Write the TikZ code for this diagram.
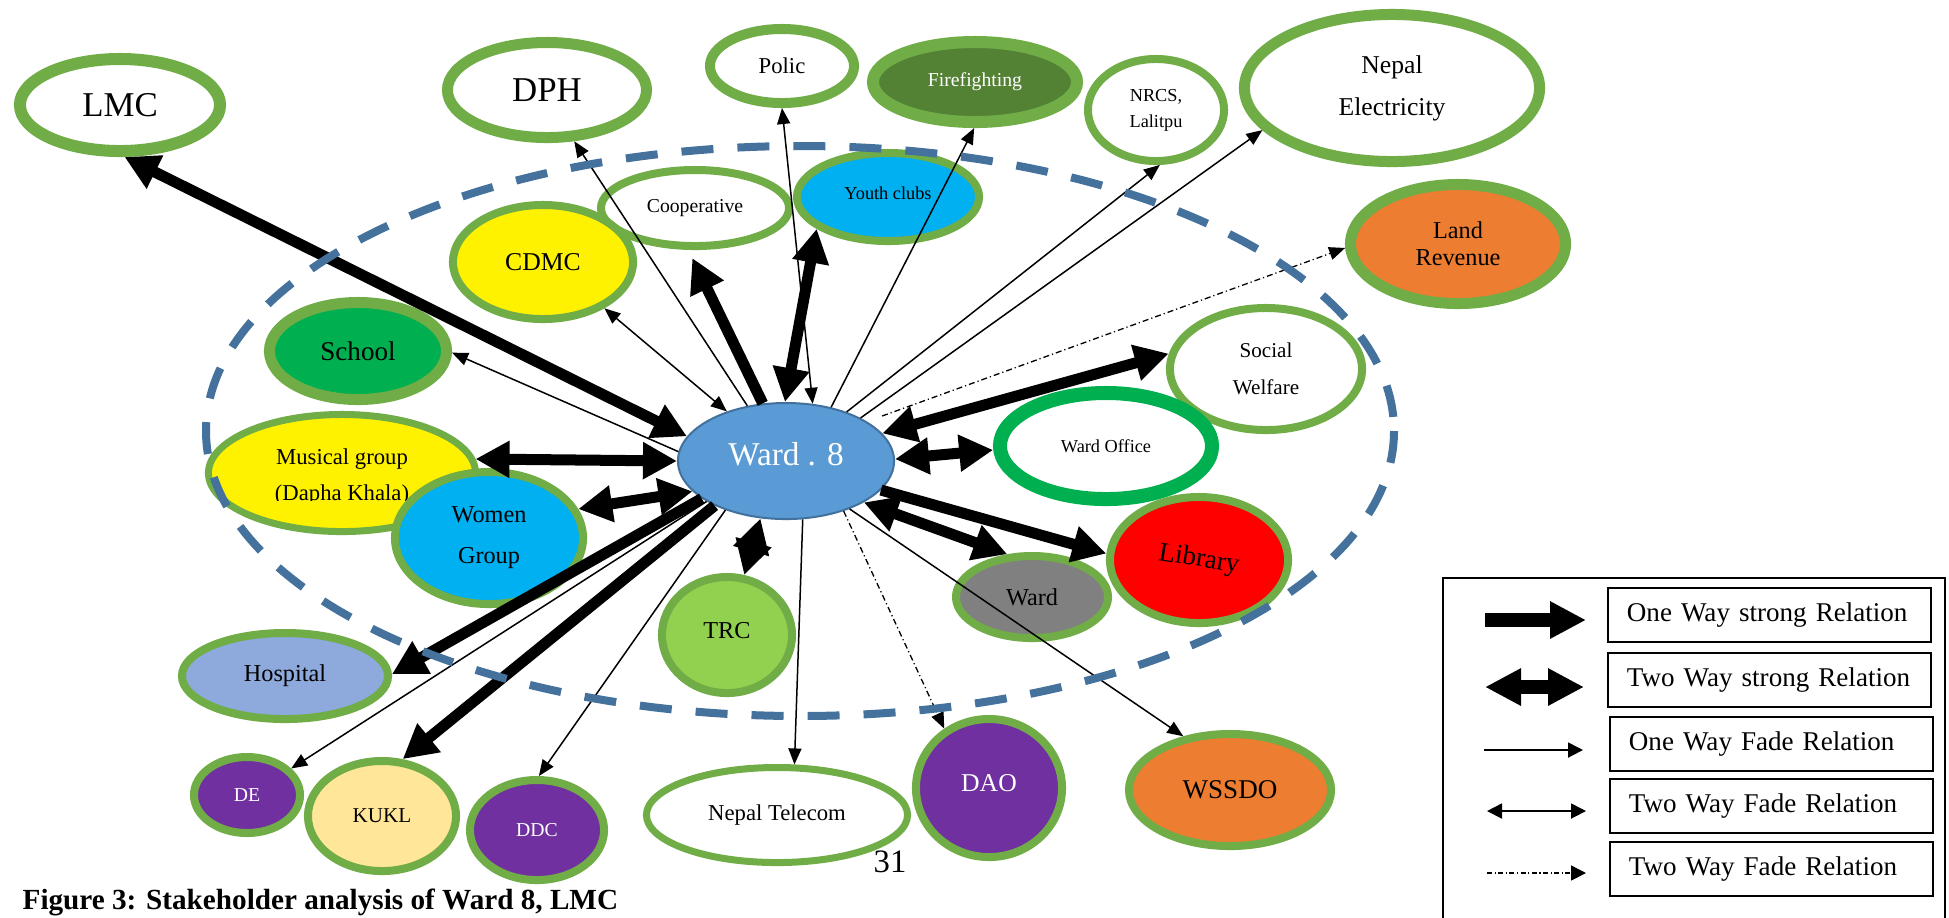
\documentclass[tikz,border=0pt]{standalone}
\usepackage{fontspec}
\setmainfont{Liberation Serif}
\usepackage{graphicx}
\usetikzlibrary{shapes.geometric,arrows.meta}

\definecolor{ringgreen}{HTML}{70AD47}
\definecolor{brightgreen}{HTML}{00B050}
\definecolor{firegreen}{HTML}{548235}
\definecolor{skyfill}{HTML}{00B0F0}
\definecolor{orangefill}{HTML}{ED7D31}
\definecolor{purplefill}{HTML}{7030A0}
\definecolor{creamfill}{HTML}{FFE699}
\definecolor{hospfill}{HTML}{8EA9DB}
\definecolor{limefill}{HTML}{92D050}
\definecolor{grayfill}{HTML}{808080}
\definecolor{wardfill}{HTML}{5B9BD5}
\definecolor{wardedge}{HTML}{41719C}
\definecolor{zoneblue}{HTML}{44729D}

\newcommand\fsz[2]{\fontsize{#1}{#2}\selectfont}

\begin{document}
\begin{tikzpicture}[x=0.01cm,y=-0.01cm,
  stake/.style={ellipse, draw=ringgreen, fill=white, inner sep=0pt, align=center, text=black},
  strong/.style={line width=0.11cm, -{Triangle[length=0.34cm,width=0.35cm]}},
  strongtwo/.style={line width=0.11cm, {Triangle[length=0.34cm,width=0.35cm]}-{Triangle[length=0.34cm,width=0.35cm]}},
  fade/.style={line width=0.015cm, -{Triangle[length=0.16cm,width=0.13cm]}},
  fadetwo/.style={line width=0.015cm, {Triangle[length=0.16cm,width=0.13cm]}-{Triangle[length=0.16cm,width=0.13cm]}},
  dashdot/.style={line width=0.013cm, dash pattern=on 0.06cm off 0.03cm on 0.012cm off 0.03cm, -{Triangle[length=0.16cm,width=0.13cm]}},
  legbox/.style={draw, line width=0.02cm, rectangle, minimum height=0.54cm, text width=2.85cm, inner xsep=0.19cm, inner ysep=0pt, align=left, font=\fsz{7.7}{9}},
]
\useasboundingbox (0,0) rectangle (1949,917);
\fill[white] (0,0) rectangle (1949,917);
\clip (0,0) rectangle (1949,917);

% ---- stakeholders ----
\node[stake, line width=0.12cm, minimum width=2.00cm, minimum height=0.92cm, font=\fsz{9.9}{12}] (lmc) at (120,105) {LMC};
\node[stake, line width=0.11cm, minimum width=1.99cm, minimum height=0.95cm, font=\fsz{9.9}{12}] (dph) at (547,90) {DPH};
\node[stake, line width=0.10cm, minimum width=1.44cm, minimum height=0.74cm, font=\fsz{6.45}{8}] (polic) at (782,66) {Polic};
\node[stake, line width=0.12cm, minimum width=2.04cm, minimum height=0.80cm, fill=firegreen, text=white, font=\fsz{5.6}{7}] (fire) at (975,82) {Firefighting};
\node[stake, line width=0.08cm, minimum width=1.36cm, minimum height=1.02cm, font=\fsz{5.2}{7.4}] (nrcs) at (1156,110) {NRCS,\\Lalitpu};
\node[stake, line width=0.11cm, minimum width=2.95cm, minimum height=1.47cm, font=\fsz{7.3}{12}] (nea) at (1392,88) {Nepal\\Electricity};
\node[stake, line width=0.08cm, minimum width=1.88cm, minimum height=0.76cm, font=\fsz{5.6}{7}] (coop) at (695,208) {Cooperative};
\node[stake, line width=0.08cm, minimum width=1.82cm, minimum height=0.88cm, fill=skyfill, font=\fsz{5.2}{7}, text depth=0.08cm] (youth) at (888,197) {Youth clubs};
\node[stake, line width=0.08cm, minimum width=1.80cm, minimum height=1.14cm, fill=yellow, font=\fsz{7.3}{9}] (cdmc) at (543,262) {CDMC};
\node[stake, line width=0.11cm, minimum width=1.77cm, minimum height=0.97cm, fill=brightgreen, font=\fsz{7.7}{9}] (school) at (358,351) {School};
\node[stake, line width=0.08cm, minimum width=1.92cm, minimum height=1.22cm, font=\fsz{6}{10.5}] (social) at (1266,369) {Social\\Welfare};
\node[stake, line width=0.11cm, minimum width=2.15cm, minimum height=1.19cm, fill=orangefill, font=\fsz{6.9}{7.7}] (land) at (1458,244) {Land\\Revenue};
\node[stake, draw=brightgreen, line width=0.14cm, minimum width=2.12cm, minimum height=1.06cm, font=\fsz{5.2}{7}] (wardoffice) at (1106,446) {Ward Office};
\node[stake, draw=wardedge, fill=wardfill, line width=0.02cm, minimum width=2.16cm, minimum height=1.16cm, text=white, font=\fsz{9.45}{11}, text depth=0.15cm] (w8) at (786,461) {Ward . 8};

% musical group, its second line cut at the text frame
\node[stake, line width=0.07cm, minimum width=2.67cm, minimum height=1.17cm, fill=yellow] (musical) at (342,473) {};
\begin{scope}
  \clip (200,400) rectangle (480,500);
  \node[anchor=base, inner sep=0pt, font=\fsz{6.45}{10.2}] (musicalA) at (342,464) {Musical group};
  \node[anchor=base, inner sep=0pt, font=\fsz{6.45}{10.2}] (musicalB) at (342,500) {(Dapha Khala)};
\end{scope}

\node[stake, line width=0.08cm, minimum width=1.88cm, minimum height=1.32cm, fill=skyfill, font=\fsz{6.9}{11.7}] (women) at (489,538) {Women\\Group};
\node[stake, line width=0.08cm, minimum width=2.06cm, minimum height=0.86cm, fill=hospfill, font=\fsz{6.9}{8}] (hospital) at (285,676) {Hospital};
\node[stake, line width=0.08cm, minimum width=1.06cm, minimum height=0.76cm, fill=purplefill, text=white, font=\fsz{5.6}{7}] (de) at (247,795) {DE};
\node[stake, line width=0.08cm, minimum width=1.48cm, minimum height=1.10cm, fill=creamfill, font=\fsz{6}{7}] (kukl) at (382,816) {KUKL};
\node[stake, line width=0.08cm, minimum width=1.34cm, minimum height=1.00cm, fill=purplefill, text=white, font=\fsz{5.6}{7}] (ddc) at (537,830) {DDC};
\node[stake, line width=0.08cm, minimum width=1.30cm, minimum height=1.16cm, fill=limefill, font=\fsz{6.9}{8}, text depth=0.1cm] (trc) at (727,635) {TRC};
\node[stake, line width=0.08cm, minimum width=1.52cm, minimum height=0.82cm, fill=grayfill, font=\fsz{6.9}{8}] (ward) at (1032,597) {Ward};
\node[stake, line width=0.08cm, minimum width=1.78cm, minimum height=1.26cm, fill=red, font=\fsz{7.7}{9}] (library) at (1199,560) {\rotatebox{-9}{Library}};
\node[stake, line width=0.07cm, minimum width=2.61cm, minimum height=0.95cm, font=\fsz{6.45}{8}] (telecom) at (777,815) {Nepal Telecom};
\node[stake, line width=0.08cm, minimum width=1.46cm, minimum height=1.38cm, fill=purplefill, text=white, font=\fsz{7.3}{9}, text depth=0.1cm] (dao) at (989,788) {DAO};
\node[stake, line width=0.08cm, minimum width=2.02cm, minimum height=1.12cm, fill=orangefill, font=\fsz{7.7}{9}] (wssdo) at (1230,790) {WSSDO};

% ---- relations ----
% one way strong
\draw[strong, shorten >=0.09cm] (w8.112) -- (coop.261);
\draw[strong] (w8.343) -- (library.176);
\draw[strong] (w8.204) -- (hospital.1);
\draw[strong] (w8.212) -- (kukl.70);
% two way strong
\draw[strongtwo] (lmc.275) -- (w8.166);
\draw[strongtwo] (youth.204) -- (w8.91);
\draw[strongtwo] (social.171) -- (w8.16);
\draw[strongtwo] (wardoffice.182) -- (w8.1);
\draw[strongtwo] (ward.120) -- (w8.332);
\draw[strongtwo] (musical.6) -- (w8.180);
\draw[strongtwo] (women.18) -- (w8.198);
\draw[strongtwo] (trc.74) -- (w8.246);
% one way fade
\draw[fade] (w8.125) -- (dph.298);
\draw[fade] (w8.175) -- (school.359);
\draw[fade] (w8.50) -- (fire.269);
\draw[fade] (w8.39) -- (nrcs.274);
\draw[fade] (w8.30) -- (nea.198);
\draw[fade] (w8.207) -- (de.31);
\draw[fade] (w8.219) -- (ddc.88);
\draw[fade] (w8.286) -- (telecom.71);
\draw[fade] (w8.323) -- (wssdo.131);
% two way fade
\draw[fadetwo] (w8.140) -- (cdmc.323);
\draw[fadetwo] (w8.65) -- (polic.270);
% dash-dotted
\draw[dashdot, shorten <=0.16cm] (w8.26) -- (land.182);
\draw[dashdot] (w8.319) -- (dao.127);

% ---- ward boundary ----
\draw[zoneblue, line width=0.08cm, dash pattern=on 0.32cm off 0.24cm] (800,431) ellipse [x radius=594, y radius=285];

% ---- legend ----
\draw[line width=0.02cm] (1443,578) rectangle (1945,960);
\node[legbox] (leg1) at (1769.5,615) {One Way strong Relation};
\node[legbox] (leg2) at (1769.5,680) {Two Way strong Relation};
\node[legbox] (leg3) at (1771.5,744) {One Way Fade Relation};
\node[legbox] (leg4) at (1771.5,806) {Two Way Fade Relation};
\node[legbox] (leg5) at (1771.5,869) {Two Way Fade Relation};

\coordinate (k1a) at (1485,620); \coordinate (k1b) at (1586,620);
\coordinate (k2a) at (1485,687); \coordinate (k2b) at (1584,687);
\coordinate (k3a) at (1484,750); \coordinate (k3b) at (1583,750);
\coordinate (k4a) at (1487,811); \coordinate (k4b) at (1586,811);
\coordinate (k5a) at (1487,873); \coordinate (k5b) at (1586,873);
\draw[line width=0.14cm, -{Triangle[length=0.36cm,width=0.35cm]}] (k1a) -- (k1b);
\draw[line width=0.14cm, {Triangle[length=0.36cm,width=0.35cm]}-{Triangle[length=0.36cm,width=0.35cm]}] (k2a) -- (k2b);
\draw[line width=0.018cm, -{Triangle[length=0.15cm,width=0.15cm]}] (k3a) -- (k3b);
\draw[line width=0.018cm, {Triangle[length=0.15cm,width=0.15cm]}-{Triangle[length=0.15cm,width=0.15cm]}] (k4a) -- (k4b);
\draw[line width=0.015cm, dash pattern=on 0.05cm off 0.025cm on 0.012cm off 0.025cm, -{Triangle[length=0.15cm,width=0.15cm]}] (k5a) -- (k5b);

% ---- page furniture ----
\node[anchor=base, inner sep=0pt, font=\fsz{9.3}{11}] (pagenum) at (890,872) {31};
\node[anchor=base west, inner sep=0pt, font=\bfseries\fsz{8.3}{10}] (caption) at (22,909) {Figure 3: Stakeholder analysis of Ward 8, LMC};
\end{tikzpicture}
\end{document}
